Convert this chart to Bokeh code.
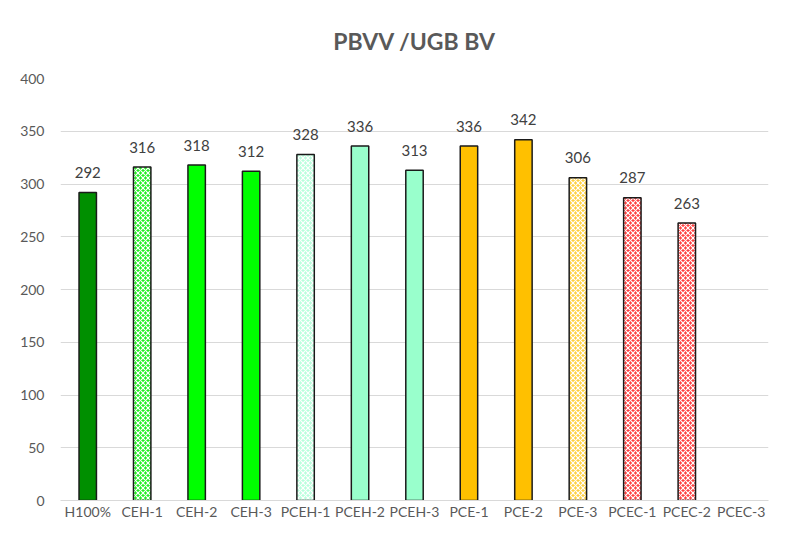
from bokeh.plotting import figure
from bokeh.models import ColumnDataSource
from bokeh.embed import file_html
from bokeh.resources import INLINE
from bokeh.core.properties import value

categories = ["H100%", "CEH-1", "CEH-2", "CEH-3", "PCEH-1", "PCEH-2", "PCEH-3",
              "PCE-1", "PCE-2", "PCE-3", "PCEC-1", "PCEC-2", "PCEC-3"]
values = [292, 316, 318, 312, 328, 336, 313, 336, 342, 306, 287, 263, float("nan")]
labels = ["292", "316", "318", "312", "328", "336", "313", "336", "342", "306", "287", "263", ""]
fill_colors = ["#008F00", "#22EE22", "#00FF00", "#00FF00", "#B8FFDC", "#99FFCC", "#99FFCC",
               "#FFC000", "#FFC000", "#FFD040", "#FF4040", "#FF4040", "#FF4040"]
hatches = [" ", "diagonal_cross", " ", " ", "diagonal_cross", " ", " ",
           " ", " ", "diagonal_cross", "diagonal_cross", "diagonal_cross", "diagonal_cross"]
y_ticks = [0, 50, 100, 150, 200, 250, 300, 350, 400]

FONT = "Lato"
GRAY = "#595959"

src = ColumnDataSource(dict(x=categories, top=values, lab=labels, color=fill_colors, hatch=hatches))

p = figure(x_range=categories, y_range=(0, 400), width=770, height=522,
           output_backend="svg", toolbar_location=None,
           min_border_left=60, min_border_right=2, min_border_top=77, min_border_bottom=0)

p.title.text = "PBVV /UGB BV"
p.title.align = "center"
p.title.text_font = FONT
p.title.text_font_size = "23px"
p.title.text_font_style = "bold"
p.title.text_color = GRAY
p.title.standoff = 48

p.vbar(x="x", top="top", width=0.32, source=src, fill_color="color",
       line_color="#1a1a1a", line_width=1.5,
       hatch_pattern="hatch", hatch_color="white", hatch_scale=5, hatch_weight=1.2)

p.text(x="x", y="top", text="lab", source=src, text_align="center", text_baseline="middle",
       y_offset=-20, text_font=value(FONT), text_font_size="15px", text_color="#404040")

p.yaxis.ticker = y_ticks
p.yaxis.axis_line_color = None
p.yaxis.major_tick_line_color = None
p.yaxis.minor_tick_line_color = None
p.yaxis.major_tick_out = 0
p.yaxis.major_label_text_font = FONT
p.yaxis.major_label_text_font_size = "14px"
p.yaxis.major_label_text_color = GRAY
p.yaxis.major_label_standoff = 16

p.xaxis.axis_line_color = "#D9D9D9"
p.xaxis.major_tick_line_color = None
p.xaxis.minor_tick_line_color = None
p.xaxis.major_tick_out = 0
p.xaxis.major_tick_in = 0
p.xaxis.axis_label_standoff = 0
p.xaxis.major_label_text_font = FONT
p.xaxis.major_label_text_font_size = "14px"
p.xaxis.major_label_text_color = GRAY
p.xaxis.major_label_standoff = 2

p.xgrid.grid_line_color = None
p.ygrid.grid_line_color = "#D9D9D9"
p.ygrid.grid_line_width = 1
p.outline_line_color = None

open("out.html", "w").write(file_html(p, INLINE))
